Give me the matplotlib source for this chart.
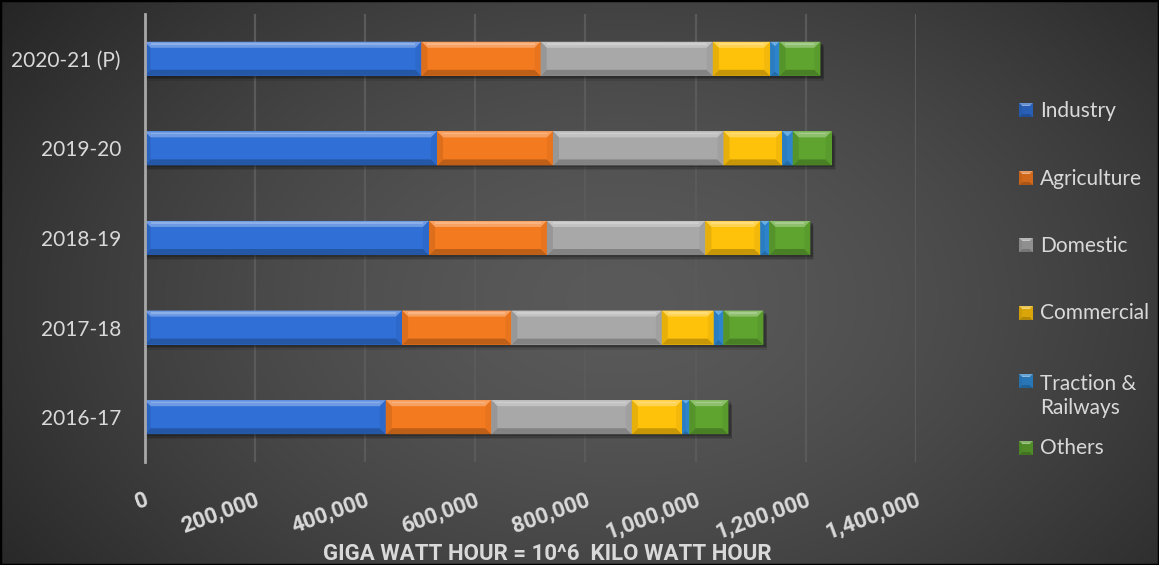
import numpy as np
import matplotlib
matplotlib.use('Agg')
import matplotlib.pyplot as plt
from matplotlib.patches import Polygon, Rectangle
from matplotlib.transforms import IdentityTransform
import matplotlib.colors as mc

# ---------------- data ----------------
years = ['2020-21 (P)', '2019-20', '2018-19', '2017-18', '2016-17']
industry = [502600, 530900, 516300, 467400, 437800]
agriculture = [216300, 210300, 213900, 198300, 191600]
domestic = [312400, 309500, 287700, 273000, 254900]
commercial = [104100, 106400, 99700, 94300, 91400]
traction = [16900, 19200, 16300, 17600, 13200]
others = [74300, 70700, 74300, 72500, 70700]
series_names = ['Industry', 'Agriculture', 'Domestic', 'Commercial',
                'Traction &\nRailways', 'Others']
x_ticks = [0, 200000, 400000, 600000, 800000, 1000000, 1200000, 1400000]
x_label = 'GIGA WATT HOUR = 10^6  KILO WATT HOUR'

# ---------------- style ----------------
colors = ['#2f6fd6', '#f47a1f', '#a8a8a8', '#ffc20a', '#2f8bd6', '#5ea42f']
txt_col = '#d9d9d9'
FONT = 'Lato'
BFONT = 'Roboto'
W, H = 1159, 565

fig = plt.figure(figsize=(W / 100, H / 100), dpi=100)

# radial gradient background
bg = fig.add_axes([0, 0, 1, 1], zorder=-10)
bg.axis('off')
yy, xx = np.mgrid[0:H, 0:W]
r = np.sqrt(((xx - 620) / 800.0) ** 2 + ((yy - 300) / 520.0) ** 2)
t = np.clip(r, 0, 1) ** 1.5
c0 = np.array([0x5a, 0x5a, 0x5a]) / 255.0
c1 = np.array([0x22, 0x22, 0x22]) / 255.0
img = c0 * (1 - t[..., None]) + c1 * t[..., None]
bg.imshow(img, aspect='auto', extent=[0, W, H, 0])
bg.set_xlim(0, W)
bg.set_ylim(H, 0)

ax = fig.add_axes([144.5 / W, (H - 462) / H, (916 - 144.5) / W, 448 / H])
ax.set_facecolor('none')

ypos = np.arange(len(years))
series = [industry, agriculture, domestic, commercial, traction, others]
left = np.zeros(len(years))
patches = []
for vals, col in zip(series, colors):
    b = ax.barh(ypos, vals, left=left, height=0.38, color=col,
                edgecolor='none', zorder=3)
    patches.extend([(p, col) for p in b.patches])
    left = left + np.array(vals)

ax.set_xlim(0, 1400000)
ax.set_ylim(len(years) - 0.5, -0.5)

ax.set_xticks(x_ticks)
ax.set_xticklabels([f'{v:,}' for v in x_ticks], rotation=20, ha='right',
                   va='top', rotation_mode='anchor', fontsize=16,
                   fontweight='bold', family=BFONT, color=txt_col)
ax.set_yticks(ypos)
ax.set_yticklabels(years, fontsize=15, family=FONT, color=txt_col)
ax.tick_params(axis='x', length=0, pad=19)
ax.tick_params(axis='y', length=0, pad=17)
ax.grid(axis='x', color='#5a5a5a', lw=1.6, zorder=0)
ax.set_axisbelow(True)
for s in ['top', 'right', 'bottom']:
    ax.spines[s].set_visible(False)
ax.spines['left'].set_color('#a8a8a8')
ax.spines['left'].set_linewidth(2)
ax.spines['left'].set_zorder(5)


def mix(col, other, f):
    a = np.array(mc.to_rgb(col))
    b = np.array(mc.to_rgb(other))
    return tuple(a * (1 - f) + b * f)


def bevel(container, x0, y0, x1, y1, col, bsize=6, z=4):
    w, h = x1 - x0, y1 - y0
    b = min(bsize, w / 2.0, h / 2.0)
    tr = IdentityTransform()
    polys = [
        ([(x0, y1), (x1, y1), (x1 - b, y1 - b), (x0 + b, y1 - b)], mix(col, 'white', 0.30)),
        ([(x0, y0), (x1, y0), (x1 - b, y0 + b), (x0 + b, y0 + b)], mix(col, 'black', 0.22)),
        ([(x0, y0), (x0, y1), (x0 + b, y1 - b), (x0 + b, y0 + b)], mix(col, 'black', 0.10)),
        ([(x1, y0), (x1, y1), (x1 - b, y1 - b), (x1 - b, y0 + b)], mix(col, 'black', 0.05)),
    ]
    for pts, c in polys:
        container.add_artist(Polygon(pts, closed=True, facecolor=c, edgecolor='none',
                                     transform=tr, zorder=z, clip_on=False))
    container.add_artist(Polygon([(x0 + b, y1 - 1.5), (x1 - b, y1 - 1.5),
                                  (x1 - b, y1 - 3), (x0 + b, y1 - 3)], closed=True,
                                 facecolor=mix(col, 'white', 0.45), edgecolor='none',
                                 transform=tr, zorder=z + 0.1, clip_on=False))


for p, col in patches:
    bb = p.get_window_extent()
    bevel(ax, bb.x0, bb.y0, bb.x1, bb.y1, col)

# shadows for full bars
for i in range(len(years)):
    row = [p for p, c in patches if abs(p.get_y() + p.get_height() / 2 - ypos[i]) < 1e-6]
    bx0 = min(p.get_window_extent().x0 for p in row)
    bx1 = max(p.get_window_extent().x1 for p in row)
    by0 = min(p.get_window_extent().y0 for p in row)
    by1 = max(p.get_window_extent().y1 for p in row)
    for k, a in [(5, 0.10), (3.5, 0.15), (2, 0.2)]:
        ax.add_artist(Rectangle((bx0 + 1, by0 - k), bx1 - bx0 + k * 0.6, by1 - by0,
                                facecolor='black', alpha=a, edgecolor='none',
                                transform=IdentityTransform(), zorder=2, clip_on=False))

# x-axis title
fig.text(547 / W, 10.5 / H, x_label, ha='center', va='center', fontsize=16,
         fontweight='bold', family=BFONT, color=txt_col)

# manual legend
leg_marker_y = [110, 178, 245, 313, 381, 448]
leg_text_y = [111, 179, 246, 313, 396, 448]
for name, col, my, ty in zip(series_names, colors, leg_marker_y, leg_text_y):
    ms = 14
    mx0 = 1019
    y_disp = H - my
    bg.add_artist(Rectangle((mx0, y_disp - ms / 2), ms, ms, facecolor=mix(col, 'black', 0.15),
                            edgecolor='none', transform=IdentityTransform(), zorder=5))
    bevel(bg, mx0, y_disp - ms / 2, mx0 + ms, y_disp + ms / 2, mix(col, 'black', 0.1),
          bsize=3, z=6)
    fig.text(1040 / W, 1 - ty / H, name, ha='left', va='center', fontsize=15,
             family=FONT, color=txt_col, linespacing=1.3)

fig.patches.append(Rectangle((0, 0), 1, 1, transform=fig.transFigure, fill=False,
                             edgecolor='black', lw=2.5))

fig.savefig('out.png', dpi=100)
